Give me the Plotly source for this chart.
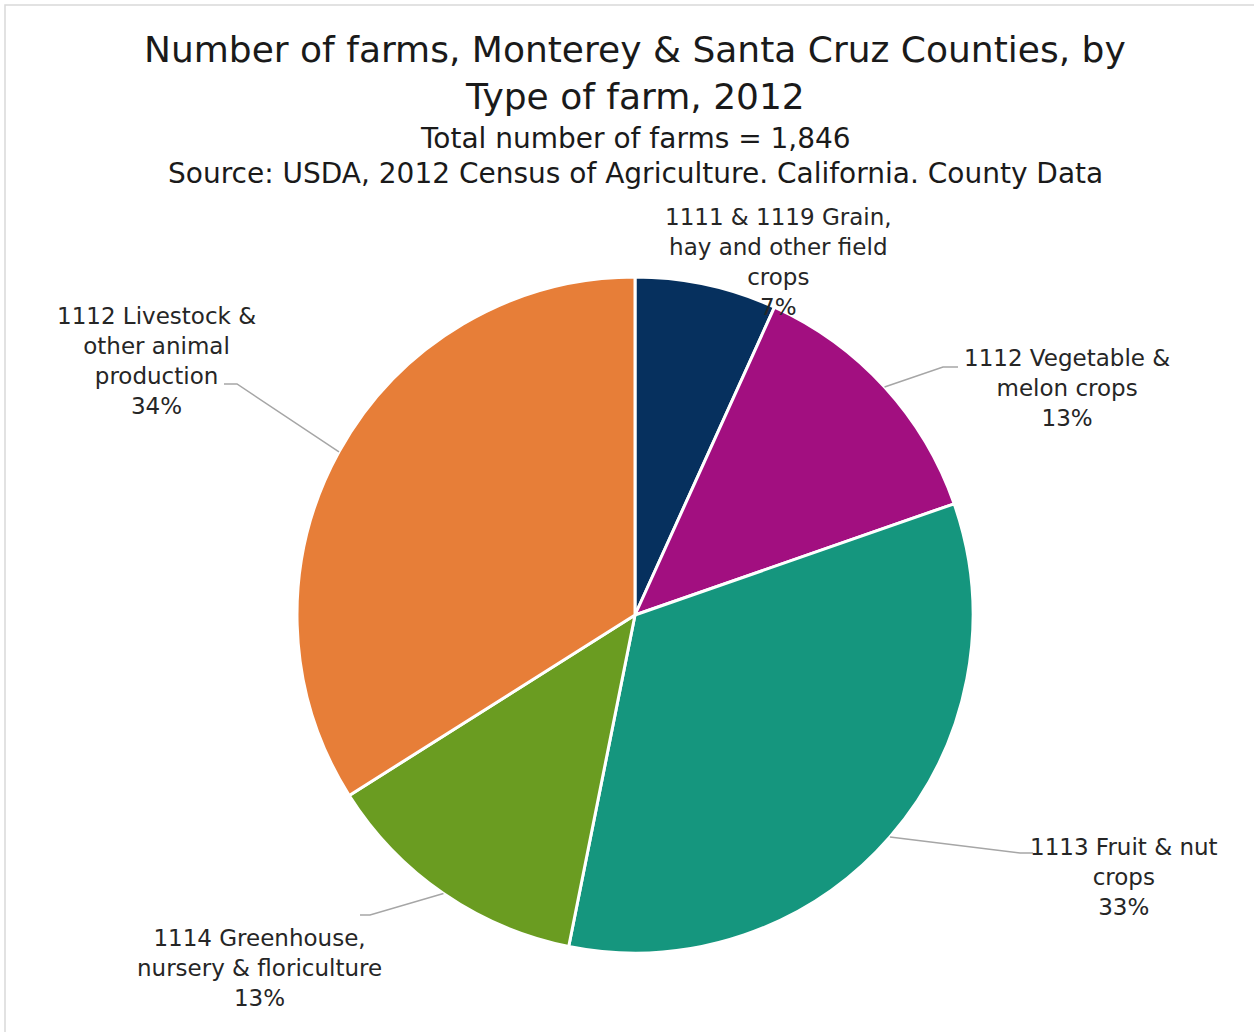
import math
import plotly.graph_objects as go

# ---- data ----
categories = [
    "1111 & 1119 Grain,<br>hay and other field<br>crops",
    "1112 Vegetable &<br>melon crops",
    "1113 Fruit & nut<br>crops",
    "1114 Greenhouse,<br>nursery & floriculture",
    "1112 Livestock &<br>other animal<br>production",
]
farm_counts = [125, 238, 618, 238, 627]
colors = ["#06305E", "#A20F80", "#15967E", "#6A9C21", "#E77E38"]

W, H = 1254, 1032
CX, CY, R = 635, 615, 338
FONT = "DejaVu Sans"

def px(x):
    return x / W

def py(y):
    return 1 - y / H

fig = go.Figure(go.Pie(
    labels=[c.replace("<br>", " ") for c in categories],
    values=farm_counts,
    sort=False,
    direction="clockwise",
    rotation=0,
    marker=dict(colors=colors, line=dict(color="white", width=3)),
    textinfo="none",
    hoverinfo="label+value+percent",
    domain=dict(x=[px(CX - R), px(CX + R)], y=[py(CY + R), py(CY - R)]),
    showlegend=False,
))

total = sum(farm_counts)
pcts = [round(v / total * 100) for v in farm_counts]

# label centers (pixel) and leader-line elbows (None = no leader)
label_pos = [(778, 262), (1067, 388), (1124, 877), (259, 968), (156, 361)]
elbows = [None, [(958, 367), (943, 367)], [(1033, 853), (1020, 853)],
          [(360, 915), (370, 915)], [(224, 384), (237, 384)]]

annotations = []
shapes = []
cum = 0
for i, (cat, v) in enumerate(zip(categories, farm_counts)):
    mid = (cum + v / 2) / total * 2 * math.pi
    cum += v
    ex = CX + R * math.sin(mid)
    ey = CY - R * math.cos(mid)
    lx, ly = label_pos[i]
    annotations.append(dict(
        x=px(lx), y=py(ly), xref="paper", yref="paper",
        text=f"{cat}<br>{pcts[i]}%", showarrow=False,
        font=dict(family=FONT, size=23, color="#262626"),
        align="center", xanchor="center", yanchor="middle",
    ))
    if elbows[i]:
        (ax, ay), (bx, by) = elbows[i]
        pts = [(ax, ay), (bx, by), (ex, ey)]
        path = "M " + " L ".join(f"{px(x)},{py(y)}" for x, y in pts)
        shapes.append(dict(type="path", path=path, xref="paper", yref="paper",
                           line=dict(color="#A6A6A6", width=1.5)))

titles = [
    ("Number of farms, Monterey & Santa Cruz Counties, by", 50, 36),
    ("Type of farm, 2012", 97, 36),
    ("Total number of farms = 1,846", 138, 28),
    ("Source: USDA, 2012 Census of Agriculture. California. County Data", 174, 28),
]
for t, yy, sz in titles:
    annotations.append(dict(
        x=px(635), y=py(yy), xref="paper", yref="paper", text=t, showarrow=False,
        font=dict(family=FONT, size=sz, color="#1a1a1a"),
        xanchor="center", yanchor="middle",
    ))

# chart border
shapes.append(dict(type="path", path=f"M {px(5)},0 L {px(5)},{py(5)} L 1,{py(5)}",
                   xref="paper", yref="paper", line=dict(color="#D9D9D9", width=1.5)))

fig.update_layout(
    width=W, height=H,
    margin=dict(l=0, r=0, t=0, b=0),
    paper_bgcolor="white", plot_bgcolor="white",
    annotations=annotations, shapes=shapes,
)

fig.write_html("out.html",
               config={"displayModeBar": False},
               post_script="document.body.style.margin='0px';document.body.style.padding='0px';")
